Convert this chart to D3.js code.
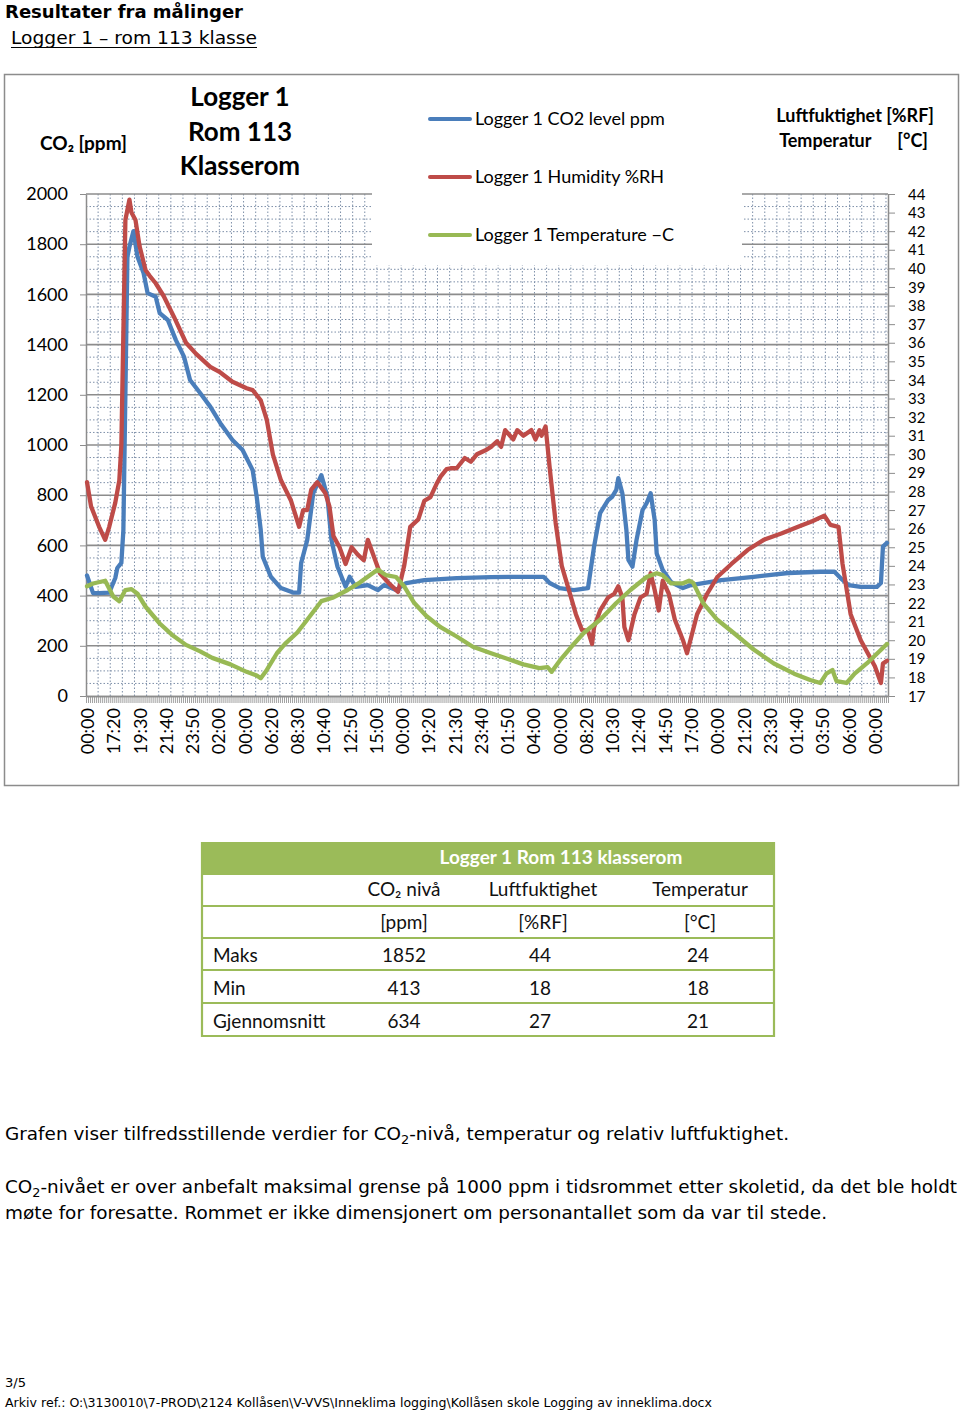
<!DOCTYPE html>
<html><head><meta charset="utf-8">
<script src="https://cdn.jsdelivr.net/npm/d3@7"></script>
<style>body{margin:0;background:#fff}svg{display:block}</style>
</head><body>
<svg id="c" width="960" height="1413"></svg>
<script>
// ---------- data ----------
const xLabels = ["00:00","17:20","19:30","21:40","23:50","02:00","00:00","06:20","08:30","10:40","12:50","15:00","00:00","19:20","21:30","23:40","01:50","04:00","00:00","08:20","10:30","12:40","14:50","17:00","00:00","21:20","23:30","01:40","03:50","06:00","00:00"];
const samplesPerLabel = 13;
const sampleCount = 397;
const co2Ticks = [0,200,400,600,800,1000,1200,1400,1600,1800,2000];
const rightTicks = [17,18,19,20,21,22,23,24,25,26,27,28,29,30,31,32,33,34,35,36,37,38,39,40,41,42,43,44];
const seriesNames = ["Logger 1 CO2 level ppm","Logger 1 Humidity %RH","Logger 1 Temperature \u2212C"];
// [sample index, value]
const co2 = [[0,480],[3,410],[6,410],[11,412],[14,470],[15,510],[17,530],[18,660],[20,1750],[21,1790],[23,1852],[25,1750],[28,1685],[30,1605],[34,1591],[36,1525],[40,1498],[44,1418],[48,1352],[51,1259],[56,1207],[61,1153],[66,1087],[72,1020],[77,980],[82,900],[84,794],[86,661],[87,555],[91,475],[96,430],[102,412],[105,412],[106,530],[109,621],[112,808],[116,880],[119,794],[121,621],[124,515],[128,435],[130,475],[133,435],[139,442],[144,422],[147,442],[153,422],[158,450],[167,462],[183,470],[200,474],[216,475],[226,475],[229,450],[234,430],[241,422],[248,430],[251,595],[254,729],[258,781],[260,794],[262,821],[263,868],[265,808],[267,661],[268,542],[270,515],[272,621],[275,741],[277,768],[279,808],[281,701],[282,568],[285,502],[289,455],[292,442],[295,430],[299,442],[314,462],[330,475],[347,490],[363,495],[370,495],[373,470],[377,442],[383,435],[391,435],[393,450],[394,595],[396,610]];
const humidity = [[0,28.5],[2,27.2],[6,26.1],[9,25.4],[11,26.1],[14,27.4],[16,28.6],[17,30.5],[19,42.6],[21,43.7],[22,43.0],[24,42.6],[26,41.2],[29,39.9],[31,39.6],[34,39.2],[38,38.5],[43,37.4],[49,36.0],[54,35.4],[61,34.7],[66,34.4],[72,33.9],[79,33.55],[82,33.45],[86,32.9],[89,31.85],[92,30.0],[96,28.6],[101,27.5],[105,26.1],[107,27.0],[109,27.0],[111,28.1],[114,28.5],[118,27.9],[120,27.2],[122,25.6],[125,25.0],[128,24.1],[131,25.0],[134,24.6],[137,24.3],[139,25.4],[142,24.5],[145,23.6],[150,23.0],[154,22.6],[157,24.0],[160,26.1],[164,26.5],[167,27.5],[170,27.7],[173,28.4],[175,28.8],[178,29.2],[180,29.25],[183,29.25],[187,29.8],[190,29.6],[193,30.0],[197,30.2],[200,30.4],[203,30.7],[205,30.4],[207,31.3],[211,30.8],[213,31.3],[216,31.0],[220,31.3],[222,30.8],[224,31.3],[225,31.0],[227,31.5],[229,29.3],[232,26.3],[235,24.0],[238,22.9],[242,21.4],[245,20.55],[248,20.5],[250,19.8],[251,20.7],[254,21.6],[258,22.3],[261,22.5],[263,22.9],[265,22.3],[266,20.7],[268,20.0],[271,21.4],[274,22.3],[277,22.5],[279,23.6],[281,22.7],[283,21.6],[285,23.2],[288,22.5],[291,21.1],[295,20.0],[297,19.3],[300,20.55],[302,21.4],[307,22.5],[312,23.4],[319,24.1],[327,24.85],[335,25.4],[344,25.75],[352,26.1],[359,26.4],[365,26.7],[368,26.2],[372,26.1],[374,24.1],[378,21.4],[383,20.0],[390,18.6],[393,17.7],[394,18.75],[396,18.9]];
const temperature = [[0,22.9],[3,23.05],[9,23.2],[13,22.35],[16,22.1],[19,22.7],[22,22.75],[25,22.5],[29,21.8],[36,20.9],[42,20.3],[49,19.75],[56,19.4],[62,19.05],[71,18.7],[79,18.3],[84,18.1],[86,17.95],[89,18.4],[94,19.3],[98,19.8],[104,20.4],[109,21.1],[116,22.1],[122,22.3],[129,22.7],[135,23.1],[144,23.8],[148,23.5],[153,23.4],[157,22.9],[162,22.0],[168,21.3],[175,20.7],[183,20.2],[191,19.65],[200,19.3],[208,19.0],[216,18.7],[224,18.5],[228,18.55],[230,18.3],[234,18.9],[241,19.8],[246,20.4],[254,21.1],[262,22.0],[269,22.7],[277,23.4],[282,23.6],[285,23.5],[289,23.06],[295,23.06],[298,23.2],[300,23.1],[305,22.0],[312,21.1],[320,20.4],[330,19.5],[340,18.75],[350,18.2],[358,17.86],[363,17.7],[366,18.2],[369,18.4],[371,17.8],[376,17.7],[380,18.2],[386,18.75],[396,19.8]];
const tableTitle = "Logger 1 Rom 113 klasserom";
const tableColumns = ["CO\u2082 niv\u00e5","Luftfuktighet","Temperatur"];
const tableUnits = ["[ppm]","[%RF]","[\u00b0C]"];
const tableRowNames = ["Maks","Min","Gjennomsnitt"];
const tableCo2 = [1852,413,634];
const tableHum = [44,18,27];
const tableTemp = [24,18,21];

// ---------- drawing ----------
const svg = d3.select("#c");
const colors = ["#4a7ebb","#be4b48","#98b954"];
const chartFont = "Lato, 'Open Sans', sans-serif";
const docFont = "'DejaVu Sans', Verdana, sans-serif";
function fit(sel, w){ return sel.attr("textLength", w).attr("lengthAdjust","spacingAndGlyphs"); }

// page headings
fit(svg.append("text").attr("x",5).attr("y",18).attr("font-family",docFont).attr("font-weight","bold").attr("font-size",18).text("Resultater fra målinger"),238);
fit(svg.append("text").attr("x",11).attr("y",44).attr("font-family",docFont).attr("font-size",17).text("Logger 1 \u2013 rom 113 klasse"),246);
svg.append("line").attr("x1",11).attr("x2",257).attr("y1",47.5).attr("y2",47.5).attr("stroke","#000").attr("stroke-width",1.2);

// chart frame
svg.append("rect").attr("x",4.5).attr("y",74.5).attr("width",954).attr("height",711).attr("fill","#fff").attr("stroke","#8c8c8c").attr("stroke-width",1.5);

const L = 86, R = 888, T = 194, B = 696;
const x = d3.scaleLinear().domain([-0.5, sampleCount-0.5]).range([L,R]);
const yL = d3.scaleLinear().domain([0,2000]).range([B,T]);
const yR = d3.scaleLinear().domain([17,44]).range([B,T]);

const grid = svg.append("g");
const minorH = d3.range(0,2001,50).filter(v=>v%200!==0);
grid.selectAll("line.mh").data(minorH).join("line")
  .attr("x1",L).attr("x2",R).attr("y1",d=>yL(d)).attr("y2",d=>yL(d))
  .attr("stroke","#7d8fa8").attr("stroke-width",1).attr("stroke-dasharray","1.5,2");
const minorV = d3.range(6, sampleCount, 6);
grid.selectAll("line.mv").data(minorV).join("line")
  .attr("x1",d=>x(d-0.5)).attr("x2",d=>x(d-0.5)).attr("y1",T).attr("y2",B)
  .attr("stroke","#7d8fa8").attr("stroke-width",1).attr("stroke-dasharray","1.5,2");
grid.selectAll("line.mj").data(co2Ticks.filter(d=>d>0)).join("line")
  .attr("x1",L).attr("x2",R).attr("y1",d=>yL(d)).attr("y2",d=>yL(d))
  .attr("stroke","#8c8c8c").attr("stroke-width",1.6);

// legend background covers grid
svg.append("rect").attr("x",372).attr("y",180).attr("width",370).attr("height",85).attr("fill","#fff");

// axes
const axL = svg.append("g").attr("transform",`translate(${L},0)`)
  .call(d3.axisLeft(yL).tickValues(co2Ticks).tickFormat(d3.format("d")).tickSize(6).tickPadding(12).tickSizeOuter(0));
const axR = svg.append("g").attr("transform",`translate(${R},0)`)
  .call(d3.axisRight(yR).tickValues(rightTicks).tickFormat(d3.format("d")).tickSize(7).tickPadding(13).tickSizeOuter(0));
const axTicks = svg.append("g").attr("transform",`translate(0,${B})`)
  .call(d3.axisBottom(x).tickValues(d3.range(-0.5, sampleCount, 1)).tickSize(7).tickFormat("").tickSizeOuter(0));
const axB = svg.append("g").attr("transform",`translate(0,${B})`)
  .call(d3.axisBottom(x).tickValues(xLabels.map((d,i)=>i*samplesPerLabel)).tickFormat((d,i)=>xLabels[i]).tickSize(0).tickSizeOuter(0));
axB.selectAll("text").attr("transform","rotate(-90)").attr("x",-12).attr("y",0).attr("dy","0.36em").attr("text-anchor","end");
[axL,axR,axTicks,axB].forEach(a=>{
  a.selectAll("path.domain").attr("stroke","#8c8c8c").attr("stroke-width",1.5);
  a.selectAll("line").attr("stroke","#8c8c8c");
  a.selectAll("text").attr("font-family",chartFont).attr("font-size",18).attr("fill","#000");
});
axR.selectAll("text").attr("font-size",15).attr("dy","0.34em");
axTicks.selectAll("line").attr("stroke","#a0a0a0").attr("stroke-width",1);

// series lines
const seriesData = [[co2,yL],[humidity,yR],[temperature,yR]];
const lineGen = s => d3.line().x(d=>x(d[0])).y(d=>s(d[1]));
svg.append("g").selectAll("path").data(seriesData).join("path")
  .attr("d",d=>lineGen(d[1])(d[0])).attr("fill","none")
  .attr("stroke",(d,i)=>colors[i]).attr("stroke-width",4.3).attr("stroke-linejoin","round").attr("stroke-linecap","round");

// chart title
const title = svg.append("text").attr("font-family",chartFont).attr("font-weight","bold").attr("font-size",26).attr("text-anchor","middle");
["Logger 1","Rom 113","Klasserom"].forEach((t,i)=>title.append("tspan").attr("x",240).attr("y",106+i*34.5).text(t));
// axis titles
svg.append("text").attr("x",40).attr("y",150).attr("font-family",chartFont).attr("font-weight","bold").attr("font-size",19).text("CO\u2082 [ppm]");
svg.append("text").attr("x",934).attr("y",122).attr("text-anchor","end").attr("font-family",chartFont).attr("font-weight","bold").attr("font-size",18).text("Luftfuktighet [%RF]");
svg.append("text").attr("x",928).attr("y",147).attr("text-anchor","end").attr("font-family",chartFont).attr("font-weight","bold").attr("font-size",18).attr("xml:space","preserve").text("Temperatur      [\u00b0C]");

// legend
const lg = svg.append("g").selectAll("g").data(seriesNames).join("g").attr("transform",(d,i)=>`translate(430,${119+i*58})`);
lg.append("line").attr("x1",0).attr("x2",40).attr("stroke",(d,i)=>colors[i]).attr("stroke-width",4).attr("stroke-linecap","round");
lg.append("text").attr("x",45).attr("dy","0.36em").attr("font-family",chartFont).attr("font-size",18).text(d=>d);

// ---------- table ----------
const tg = svg.append("g");
const green = "#9bbb59";
const tX0 = 201, tX1 = 775;
tg.append("rect").attr("x",tX0).attr("y",842).attr("width",tX1-tX0).attr("height",33).attr("fill",green);
tg.append("text").attr("x",561).attr("y",864).attr("text-anchor","middle").attr("fill","#fff").attr("font-family",chartFont).attr("font-weight","bold").attr("font-size",19).text(tableTitle);
const rowLines = [906,938,970,1003,1036];
tg.selectAll("line.r").data(rowLines).join("line").attr("x1",tX0).attr("x2",tX1).attr("y1",d=>d).attr("y2",d=>d).attr("stroke",green).attr("stroke-width",2.2);
[tX0+1,tX1-1].forEach(xx=>tg.append("line").attr("x1",xx).attr("x2",xx).attr("y1",842).attr("y2",1037).attr("stroke",green).attr("stroke-width",2.2));
const colX = [404,543,700];
const tt = (txt,xx,yy,anchor)=>tg.append("text").attr("x",xx).attr("y",yy).attr("text-anchor",anchor||"middle").attr("font-family",chartFont).attr("font-size",19).attr("fill","#111").text(txt);
tableColumns.forEach((c,i)=>tt(c,colX[i],896));
tableUnits.forEach((c,i)=>tt(c,colX[i],929));
tableRowNames.forEach((r,j)=>{
  const yy = 962 + j*33;
  tt(r,213,yy,"start");
  tt(tableCo2[j],colX[0],yy); tt(tableHum[j],colX[1]-3,yy); tt(tableTemp[j],colX[2]-2,yy);
});

// ---------- paragraphs ----------
function para(parts, xx, yy, w, size){
  const t = svg.append("text").attr("x",xx).attr("y",yy).attr("font-family",docFont).attr("font-size",size).attr("fill","#000");
  let shifted = false;
  parts.forEach(p=>{
    if (typeof p === "string") {
      const s = t.append("tspan").text(p);
      if (shifted) { s.attr("dy",-4); shifted = false; }
    } else { t.append("tspan").attr("font-size",size*0.7).attr("dy",4).text(p.sub); shifted = true; }
  });
  if (w) fit(t,w);
  return t;
}
para(["Grafen viser tilfredsstillende verdier for CO",{sub:"2"},"-nivå, temperatur og relativ luftfuktighet."],5,1140,784,18);
para(["CO",{sub:"2"},"-nivået er over anbefalt maksimal grense på 1000 ppm i tidsrommet etter skoletid, da det ble holdt"],5,1193,952,18);
para(["møte for foresatte. Rommet er ikke dimensjonert om personantallet som da var til stede."],5,1219,822,18);
para(["3/5"],5,1387,21,13);
para(["Arkiv ref.: O:\\3130010\\7-PROD\\2124 Kollåsen\\V-VVS\\Inneklima logging\\Kollåsen skole Logging av inneklima.docx"],5,1407,707,13);
</script>
</body></html>
